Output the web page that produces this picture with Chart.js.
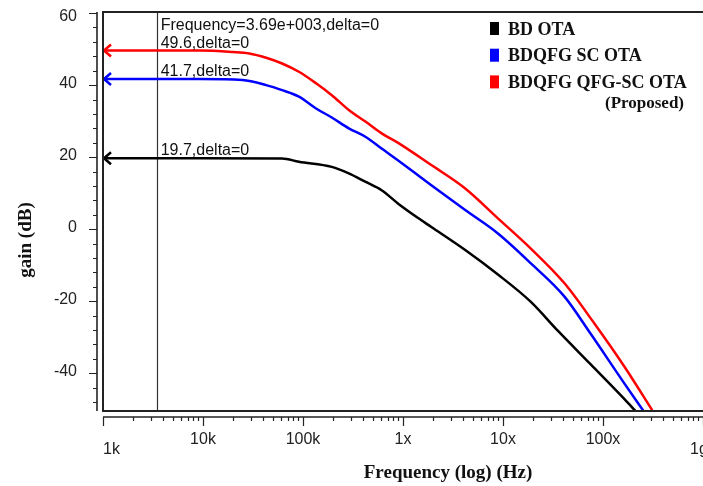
<!DOCTYPE html>
<html>
<head>
<meta charset="utf-8">
<script src="https://cdn.jsdelivr.net/npm/chart.js@4.4.1/dist/chart.umd.min.js"></script>
<style>
  html, body { margin: 0; background: #fff; }
</style>
</head>
<body>
<canvas id="gainChart" width="703" height="486"></canvas>
<script>
// series (frequency in Hz, gain in dB)
const seriesNames = ["BD OTA", "BDQFG SC OTA", "BDQFG QFG-SC OTA"];
const seriesColors = ["#000000", "#0000ff", "#ff0000"];

const freqBD = [1e3, 9.2e3, 61.8e3, 91e3, 194e3, 287e3, 424e3, 611e3, 902e3, 1.43e6, 1.92e6, 4.19e6, 8.9e6, 19e6, 35.3e6, 75e6, 164e6, 210e6];
const gainBD = [19.7, 19.7, 19.6, 18.7, 17.3, 15.5, 13.1, 10.8, 7.0, 3.0, 0.6, -5.8, -12.6, -20.2, -28.2, -37.5, -47.2, -50.4];

const freqSC = [1e3, 9.2e3, 24.7e3, 42.8e3, 61.8e3, 91e3, 135e3, 194e3, 287e3, 424e3, 611e3, 902e3, 1.33e6, 1.92e6, 4.19e6, 8.9e6, 19e6, 41.4e6, 75e6, 164e6, 253e6];
const gainSC = [41.7, 41.7, 41.4, 40.0, 38.6, 36.8, 33.5, 31.0, 28.0, 25.6, 22.4, 19.0, 15.5, 12.2, 5.3, -1.2, -9.5, -18.8, -29.0, -42.9, -50.4];

const freqQFG = [1e3, 9.2e3, 19.7e3, 29e3, 42.8e3, 61.8e3, 91e3, 135e3, 194e3, 287e3, 424e3, 611e3, 902e3, 1.92e6, 4.19e6, 8.9e6, 19e6, 41.4e6, 82e6, 164e6, 311e6];
const gainQFG = [49.6, 49.6, 49.2, 48.8, 47.6, 46.0, 43.7, 40.5, 37.2, 33.1, 29.8, 26.6, 23.9, 17.8, 11.3, 3.0, -5.4, -15.1, -26.2, -38.2, -50.3];

// cursor readout
const cursorFreq = 3690;
const cursorValues = [19.7, 41.7, 49.6];

// axes
const xMajorTicks = [1e3, 1e4, 1e5, 1e6, 1e7, 1e8, 1e9];
const xTickLabels = ["1k", "10k", "100k", "1x", "10x", "100x", "1g"];
const yMajorTicks = [60, 40, 20, 0, -20, -40];
const yTickLabels = ["60", "40", "20", "0", "-20", "-40"];

function toPoints(xs, ys) {
    return xs.map((x, i) => ({ x: x, y: ys[i] }));
}

function sciLabel(v) {
    const exp = Math.floor(Math.log10(v));
    const mant = (v / Math.pow(10, exp)).toFixed(2);
    return mant + "e+" + String(exp).padStart(3, "0");
}

const bodeDecor = {
    id: "bodeDecor",
    beforeDatasetsDraw(chart) {
        const { ctx, chartArea, scales } = chart;
        const cx = Math.round(scales.x.getPixelForValue(cursorFreq)) - 2.5;
        ctx.save();
        ctx.strokeStyle = "#333";
        ctx.lineWidth = 1.2;
        ctx.beginPath();
        ctx.moveTo(cx, chartArea.top);
        ctx.lineTo(cx, chartArea.bottom);
        ctx.stroke();
        ctx.restore();
    },
    afterDatasetsDraw(chart) {
        const { ctx, chartArea, scales } = chart;
        const x0 = scales.x.getPixelForValue(xMajorTicks[0]);
        const cx = scales.x.getPixelForValue(cursorFreq) - 3;
        ctx.save();
        // arrow heads at the left edge
        ctx.lineWidth = 2.5;
        ctx.lineCap = "butt";
        cursorValues.forEach((v, i) => {
            const y = scales.y.getPixelForValue(v);
            ctx.strokeStyle = seriesColors[i];
            ctx.beginPath();
            ctx.moveTo(x0 + 8, y - 6);
            ctx.lineTo(x0 + 1, y);
            ctx.lineTo(x0 + 8, y + 6);
            ctx.stroke();
        });
        // readout text
        ctx.fillStyle = "#111";
        ctx.font = '16px "Liberation Sans", Arial, sans-serif';
        ctx.textAlign = "left";
        ctx.textBaseline = "alphabetic";
        ctx.fillText("Frequency=" + sciLabel(cursorFreq) + ",delta=0", cx + 4, chartArea.top + 18);
        cursorValues.forEach((v) => {
            const y = scales.y.getPixelForValue(v);
            ctx.fillText(v.toFixed(1) + ",delta=0", cx + 4, y - 3);
        });
        ctx.restore();
    },
    afterDraw(chart) {
        const { ctx, chartArea, scales } = chart;
        const { left, top, right, bottom } = chartArea;
        ctx.save();

        // plot frame
        ctx.strokeStyle = "#222";
        ctx.lineWidth = 2;
        ctx.beginPath();
        ctx.moveTo(right + 2, top);
        ctx.lineTo(left, top);
        ctx.lineTo(left, bottom);
        ctx.lineTo(right + 2, bottom);
        ctx.stroke();

        // y axis
        const ax = left - 6;
        ctx.lineWidth = 1.6;
        ctx.beginPath();
        ctx.moveTo(ax, top);
        ctx.lineTo(ax, bottom);
        ctx.stroke();
        ctx.lineWidth = 1.2;
        ctx.beginPath();
        for (let v = 60; v >= -48; v -= 4) {
            const y = Math.round(scales.y.getPixelForValue(v)) + 0.5;
            const len = yMajorTicks.includes(v) ? 8 : 4;
            ctx.moveTo(ax, y);
            ctx.lineTo(ax - len, y);
        }
        ctx.stroke();

        // x axis
        const ay = bottom + 6;
        ctx.lineWidth = 1.6;
        ctx.beginPath();
        ctx.moveTo(left, ay);
        ctx.lineTo(right, ay);
        ctx.stroke();
        ctx.lineWidth = 1.2;
        ctx.beginPath();
        xMajorTicks.forEach((f, i) => {
            const x = Math.round(scales.x.getPixelForValue(f)) + 0.5;
            ctx.moveTo(x, ay);
            ctx.lineTo(x, ay + 9);
            if (i < xMajorTicks.length - 1) {
                for (let m = 2; m <= 9; m++) {
                    const xm = Math.round(scales.x.getPixelForValue(f * m)) + 0.5;
                    ctx.moveTo(xm, ay);
                    ctx.lineTo(xm, ay + 4);
                }
            }
        });
        ctx.stroke();

        // tick labels
        ctx.fillStyle = "#222";
        ctx.font = '16px "Liberation Sans", Arial, sans-serif';
        ctx.textBaseline = "middle";
        ctx.textAlign = "right";
        yMajorTicks.forEach((v, i) => {
            const y = Math.max(scales.y.getPixelForValue(v) - 2, top + 5);
            ctx.fillText(yTickLabels[i], ax - 20, y);
        });
        xMajorTicks.forEach((f, i) => {
            const x = scales.x.getPixelForValue(f);
            if (i === 0) {
                ctx.textAlign = "left";
                ctx.fillText(xTickLabels[i], x, ay + 33);
            } else if (i === xMajorTicks.length - 1) {
                ctx.textAlign = "left";
                ctx.fillText(xTickLabels[i], x - 13, ay + 33);
            } else {
                ctx.textAlign = "center";
                ctx.fillText(xTickLabels[i], x, ay + 23);
            }
        });

        // axis titles
        ctx.fillStyle = "#111";
        ctx.font = 'bold 19px "Liberation Serif", "Times New Roman", serif';
        ctx.textAlign = "center";
        ctx.fillText("Frequency (log) (Hz)", 448, 473);
        ctx.save();
        ctx.translate(26, 240);
        ctx.rotate(-Math.PI / 2);
        ctx.fillText("gain (dB)", 0, 0);
        ctx.restore();

        // legend
        const lx = right - 213;
        const ly = top + 10;
        const rowH = 26.7;
        ctx.font = 'bold 18px "Liberation Serif", "Times New Roman", serif';
        ctx.textAlign = "left";
        ctx.textBaseline = "alphabetic";
        seriesNames.forEach((name, i) => {
            const y = ly + i * rowH;
            ctx.fillStyle = seriesColors[i];
            ctx.fillRect(lx, y, 9, 13);
            ctx.fillStyle = "#111";
            ctx.fillText(name, lx + 18, y + 12.5);
        });
        ctx.font = 'bold 17px "Liberation Serif", "Times New Roman", serif';
        ctx.textAlign = "right";
        ctx.fillText("(Proposed)", right - 19, ly + 2 * rowH + 33);

        ctx.restore();
    }
};

const ctx = document.getElementById("gainChart").getContext("2d");

new Chart(ctx, {
    type: "line",
    data: {
        datasets: [
            { label: seriesNames[0], data: toPoints(freqBD, gainBD), borderColor: seriesColors[0] },
            { label: seriesNames[1], data: toPoints(freqSC, gainSC), borderColor: seriesColors[1] },
            { label: seriesNames[2], data: toPoints(freqQFG, gainQFG), borderColor: seriesColors[2] },
        ].map((d) => Object.assign(d, {
            borderWidth: 2.5,
            pointRadius: 0,
            fill: false,
            cubicInterpolationMode: "monotone",
        })),
    },
    options: {
        responsive: false,
        animation: false,
        layout: { padding: { left: 103, top: 12, right: 0, bottom: 75 } },
        plugins: {
            legend: { display: false },
            tooltip: { enabled: false },
        },
        scales: {
            x: { type: "logarithmic", min: 1e3, max: 1e9, display: false },
            y: { type: "linear", min: -50.5, max: 60.3, display: false },
        },
    },
    plugins: [bodeDecor],
});
</script>
</body>
</html>
